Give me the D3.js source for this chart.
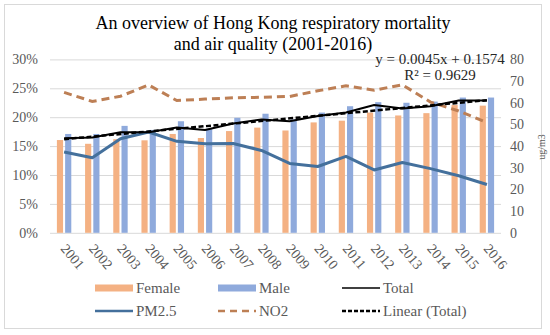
<!DOCTYPE html>
<html>
<head>
<meta charset="utf-8">
<script src="https://cdn.jsdelivr.net/npm/d3@7"></script>
<style>
  body { margin: 0; background: #fff; }
  svg text { font-family: "Liberation Serif", "Times New Roman", serif; }
</style>
</head>
<body>
<script>
// data
var years = ["2001","2002","2003","2004","2005","2006","2007","2008",
             "2009","2010","2011","2012","2013","2014","2015","2016"];
var female = [16.05, 15.4, 16.2, 16.0, 17.1, 16.4, 17.6, 18.2, 17.7, 19.1, 19.4, 20.8, 20.3, 20.7, 22.1, 22.0];
var male   = [17.1, 17.1, 18.5, 17.8, 19.3, 18.0, 19.9, 20.6, 19.6, 20.8, 21.9, 22.6, 22.5, 22.7, 23.4, 23.4];
var total  = [16.35, 16.5, 17.4, 17.4, 18.2, 17.8, 18.9, 19.6, 19.3, 20.2, 20.8, 22.1, 21.5, 21.9, 22.9, 22.9];
var pm25   = [37.3, 34.6, 43.4, 46.5, 42.2, 41.1, 41.2, 38.0, 32.0, 30.6, 35.3, 29.0, 32.4, 29.6, 26.3, 22.3];
var no2    = [64.8, 60.6, 63.0, 68.2, 61.0, 61.7, 62.3, 62.5, 62.9, 65.5, 67.8, 65.8, 68.3, 60.3, 56.2, 50.9];
var trendSlope = 0.0045, trendIntercept = 0.1574;
var leftTicks = [0, 0.05, 0.10, 0.15, 0.20, 0.25, 0.30];
var rightTicks = [0, 10, 20, 30, 40, 50, 60, 70, 80];

var W = 550, H = 335;
var left_ = 50, right_ = 501, top_ = 59.4, bottom_ = 232.8;

var svg = d3.select("body").append("svg")
    .attr("width", W).attr("height", H);

svg.append("rect")
    .attr("x", 4.5).attr("y", 4.5)
    .attr("width", 537).attr("height", 324)
    .attr("fill", "#fff").attr("stroke", "#d9d9d9");

var x = d3.scaleBand().domain(years).range([left_, right_]).padding(0);
var sub = d3.scaleBand().domain(["f","m"]).range([-7.2, 7.2]).paddingInner(0.25);
var yL = d3.scaleLinear().domain([0, 0.30]).range([bottom_, top_]);
var yR = d3.scaleLinear().domain([0, 80]).range([bottom_, top_]);
var cx = function(i) { return x(years[i]) + x.bandwidth() / 2; };

// left axis + gridlines
var gL = svg.append("g").attr("transform", "translate(" + left_ + ",0)")
    .call(d3.axisLeft(yL).tickValues(leftTicks).tickFormat(d3.format(".0%"))
        .tickSize(-(right_ - left_)).tickPadding(12));
gL.select(".domain").remove();
gL.selectAll(".tick line").attr("stroke", "#d9d9d9");
gL.selectAll(".tick text").attr("font-size", 14).attr("fill", "#595959");

// right axis
var gR = svg.append("g").attr("transform", "translate(" + right_ + ",0)")
    .call(d3.axisRight(yR).tickValues(rightTicks).tickSize(0).tickPadding(9));
gR.select(".domain").remove();
gR.selectAll(".tick text").attr("font-size", 14).attr("fill", "#595959");

svg.append("text")
    .attr("transform", "translate(541,147) rotate(-90)")
    .attr("text-anchor", "middle").attr("dy", "0.35em")
    .attr("font-size", 10).attr("fill", "#595959")
    .text("ug/m3");

// bars
var bars = svg.append("g");
bars.selectAll(".female").data(female).join("rect")
    .attr("x", function(d, i) { return cx(i) + sub("f"); })
    .attr("y", function(d) { return yL(d / 100); })
    .attr("width", sub.bandwidth())
    .attr("height", function(d) { return yL(0) - yL(d / 100); })
    .attr("fill", "#f4b183");
bars.selectAll(".male").data(male).join("rect")
    .attr("x", function(d, i) { return cx(i) + sub("m"); })
    .attr("y", function(d) { return yL(d / 100); })
    .attr("width", sub.bandwidth())
    .attr("height", function(d) { return yL(0) - yL(d / 100); })
    .attr("fill", "#8faadc");

// lines
var lineL = d3.line().x(function(d, i) { return cx(i); }).y(function(d) { return yL(d / 100); });
var lineR = d3.line().x(function(d, i) { return cx(i); }).y(function(d) { return yR(d); });

svg.append("path").datum(no2).attr("d", lineR)
    .attr("fill", "none").attr("stroke", "#bd7f55").attr("stroke-width", 3)
    .attr("stroke-dasharray", "8,5");
svg.append("path").datum(pm25).attr("d", lineR)
    .attr("fill", "none").attr("stroke", "#44709c").attr("stroke-width", 3)
    .attr("stroke-linejoin", "round");
svg.append("path").datum(total).attr("d", lineL)
    .attr("fill", "none").attr("stroke", "#000").attr("stroke-width", 2)
    .attr("stroke-linejoin", "round");

var trend = [1, years.length].map(function(n) {
    return { i: n - 1, v: trendSlope * n + trendIntercept };
});
svg.append("path").datum(trend)
    .attr("d", d3.line().x(function(d) { return cx(d.i); }).y(function(d) { return yL(d.v); }))
    .attr("fill", "none").attr("stroke", "#000").attr("stroke-width", 2.5)
    .attr("stroke-dasharray", "5,2.5");

// year labels
svg.append("g").selectAll("text").data(years).join("text")
    .attr("transform", function(d, i) { return "translate(" + (cx(i) - 4) + ",249) rotate(50)"; })
    .attr("font-size", 14).attr("fill", "#595959")
    .text(function(d) { return d; });

// title
var title = svg.append("text").attr("text-anchor", "middle").attr("font-size", 18).attr("fill", "#000");
title.append("tspan").attr("x", 273).attr("y", 29).text("An overview of Hong Kong respiratory mortality");
title.append("tspan").attr("x", 273).attr("y", 50).text("and air quality (2001-2016)");

// trendline equation
var eq = svg.append("text").attr("text-anchor", "middle").attr("font-size", 15).attr("fill", "#262626");
eq.append("tspan").attr("x", 440).attr("y", 64).text("y = 0.0045x + 0.1574");
eq.append("tspan").attr("x", 440).attr("y", 80).text("R² = 0.9629");

// legend
var legendItems = [
    { name: "Female", kind: "bar", color: "#f4b183", col: 0, row: 0 },
    { name: "Male", kind: "bar", color: "#8faadc", col: 1, row: 0 },
    { name: "Total", kind: "line", color: "#000", width: 1.5, dash: null, col: 2, row: 0 },
    { name: "PM2.5", kind: "line", color: "#44709c", width: 2.5, dash: null, col: 0, row: 1 },
    { name: "NO2", kind: "line", color: "#bd7f55", width: 2.5, dash: "7,5", col: 1, row: 1 },
    { name: "Linear (Total)", kind: "line", color: "#000", width: 2.5, dash: "4,2", col: 2, row: 1 }
];
var legendX = [95, 218, 342], legendY = [288, 311];
var lg = svg.append("g").selectAll("g").data(legendItems).join("g")
    .attr("transform", function(d) { return "translate(" + legendX[d.col] + "," + legendY[d.row] + ")"; });
lg.filter(function(d) { return d.kind === "bar"; }).append("rect")
    .attr("x", 0).attr("y", -3.5).attr("width", 38).attr("height", 7)
    .attr("fill", function(d) { return d.color; });
lg.filter(function(d) { return d.kind === "line"; }).append("line")
    .attr("x1", 0).attr("x2", 38).attr("y1", 0).attr("y2", 0)
    .attr("stroke", function(d) { return d.color; })
    .attr("stroke-width", function(d) { return d.width; })
    .attr("stroke-dasharray", function(d) { return d.dash; });
lg.append("text").attr("x", 41).attr("y", 5)
    .attr("font-size", 15).attr("fill", "#595959")
    .text(function(d) { return d.name; });
</script>
</body>
</html>
